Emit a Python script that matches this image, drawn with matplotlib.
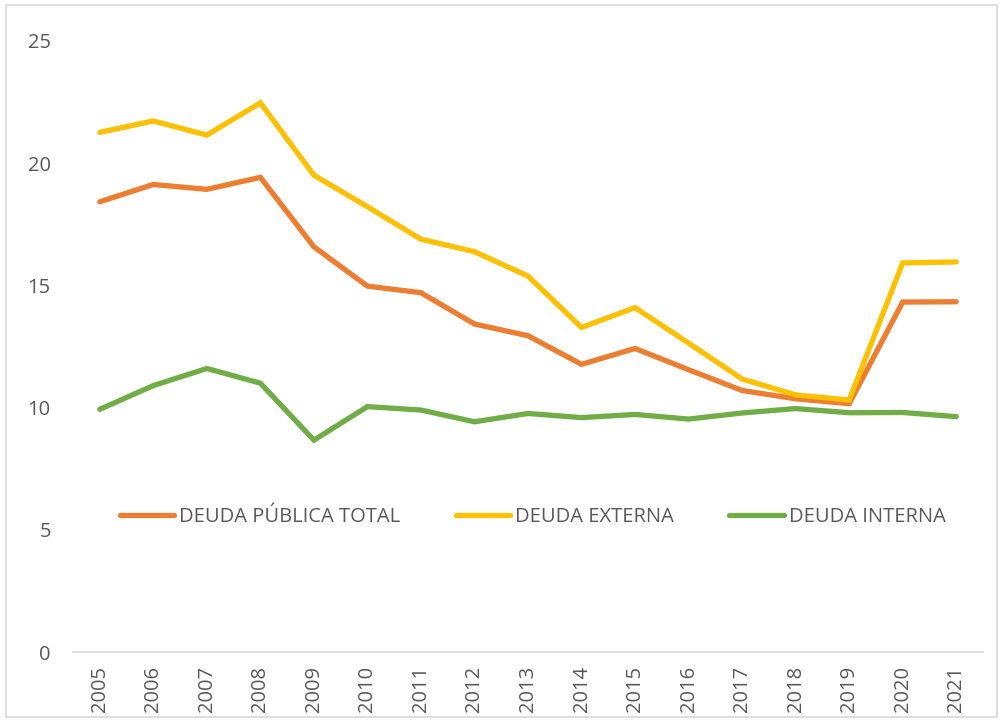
import matplotlib
matplotlib.use("Agg")
import matplotlib.pyplot as plt
from matplotlib.patches import Rectangle

years = ["2005", "2006", "2007", "2008", "2009", "2010", "2011", "2012", "2013",
         "2014", "2015", "2016", "2017", "2018", "2019", "2020", "2021"]
deuda_total = [18.42, 19.13, 18.93, 19.42, 16.58, 14.97, 14.70, 13.42, 12.94,
               11.77, 12.42, 11.55, 10.70, 10.36, 10.16, 14.32, 14.33]
deuda_externa = [21.26, 21.73, 21.15, 22.47, 19.51, 18.22, 16.89, 16.38, 15.38,
                 13.28, 14.09, 12.64, 11.17, 10.52, 10.31, 15.92, 15.96]
deuda_interna = [9.93, 10.90, 11.60, 11.00, 8.67, 10.04, 9.90, 9.42, 9.76,
                 9.59, 9.72, 9.53, 9.78, 9.96, 9.79, 9.80, 9.63]

plt.rcParams['font.family'] = ['Open Sans', 'DejaVu Sans']
txt = '#595959'

fig = plt.figure(figsize=(10.02, 7.21), dpi=100)
ax = fig.add_axes([73/1002, (721-652)/721, (983-73)/1002, (652-41)/721])

x = list(range(len(years)))
lw = 3.8
ax.plot(x, deuda_total, color='#ED7D31', lw=lw, solid_capstyle='round', solid_joinstyle='miter', label='DEUDA PÚBLICA TOTAL')
ax.plot(x, deuda_externa, color='#FFC000', lw=lw, solid_capstyle='round', solid_joinstyle='miter', label='DEUDA EXTERNA')
ax.plot(x, deuda_interna, color='#70AD47', lw=lw, solid_capstyle='round', solid_joinstyle='miter', label='DEUDA INTERNA')

ax.set_xlim(-0.5, len(years) - 0.5)
ax.set_ylim(0, 25)
ax.set_yticks([0, 5, 10, 15, 20, 25])
ax.set_xticks(x)
ax.set_xticklabels(years, rotation=90)
ax.tick_params(axis='both', length=0, labelsize=14.5, colors=txt)
ax.tick_params(axis='y', pad=16)
ax.tick_params(axis='x', pad=10)
for s in ['top', 'right', 'left']:
    ax.spines[s].set_visible(False)
ax.spines['bottom'].set_color('#D9D9D9')
ax.spines['bottom'].set_linewidth(1.2)

leg = ax.legend(loc='center', bbox_to_anchor=(0.505, 0.221), ncol=3, frameon=False,
                fontsize=14.5, handlelength=2.7, handletextpad=0.25, columnspacing=2.75)
for t in leg.get_texts():
    t.set_color(txt)

fig.patches.append(Rectangle((6/1002, 4/721), 991/1002, 712/721, transform=fig.transFigure,
                             fill=False, edgecolor='#D9D9D9', lw=1.2))

fig.savefig('out.png', dpi=100)
